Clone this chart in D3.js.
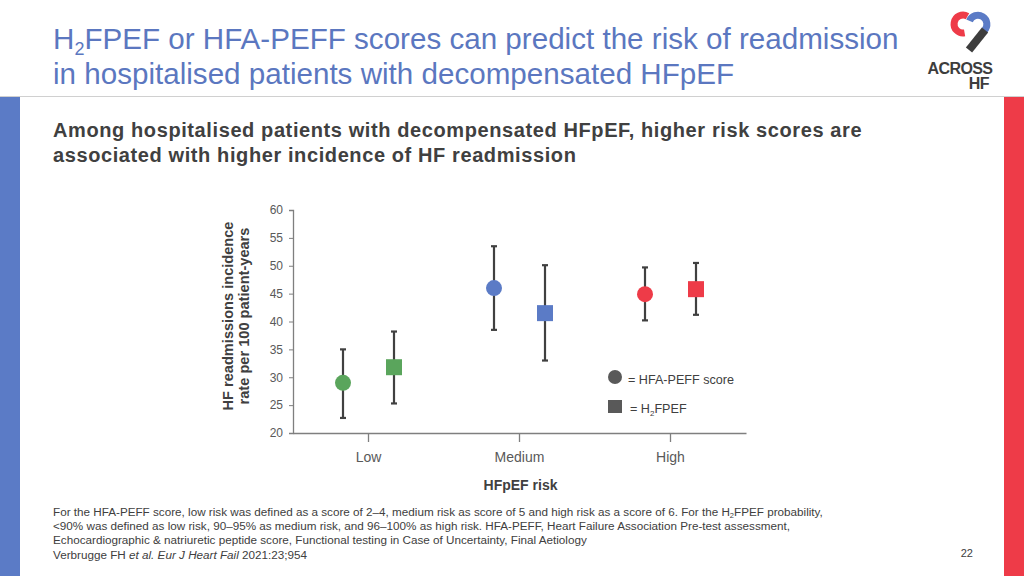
<!DOCTYPE html>
<html><head><meta charset="utf-8">
<script src="https://cdn.jsdelivr.net/npm/d3@7"></script>
<style>body{margin:0;background:#fff}svg{display:block;font-family:"Liberation Sans",Arial,sans-serif}</style>
</head><body><svg id="c" width="1024" height="576"></svg>
<script>
const categories = ["Low", "Medium", "High"];
const seriesNames = ["HFA-PEFF score", "H2FPEF"];
const hfaValues = [29, 46, 44.9];
const hfaLow = [22.7, 38.5, 40.2];
const hfaHigh = [35, 53.5, 49.7];
const h2Values = [31.8, 41.5, 45.8];
const h2Low = [25.3, 33, 41.2];
const h2High = [38.2, 50.1, 50.5];
const catColors = ["#5aa55c", "#5b7bc6", "#ee3b48"];
const yTicks = [20, 25, 30, 35, 40, 45, 50, 55, 60];

const svg = d3.select("#c");
// side bars and header line
svg.append("rect").attr("x",0).attr("y",96).attr("width",20).attr("height",480).attr("fill","#5b7bc6");
svg.append("rect").attr("x",1004).attr("y",96).attr("width",20).attr("height",480).attr("fill","#ee3b48");
svg.append("line").attr("x1",0).attr("x2",1024).attr("y1",96.5).attr("y2",96.5).attr("stroke","#d0d0d0").attr("stroke-width",1);

// title
const title = svg.append("text").attr("x",53).attr("y",49).attr("fill","#5b77c0").attr("font-size",29.6);
title.append("tspan").text("H");
title.append("tspan").text("2").attr("font-size",18).attr("dy",6);
title.append("tspan").text("FPEF or HFA-PEFF scores can predict the risk of readmission").attr("dy",-6);
svg.append("text").attr("x",53).attr("y",84).attr("fill","#5b77c0").attr("font-size",29.6)
  .text("in hospitalised patients with decompensated HFpEF");

// subtitle
svg.append("text").attr("x",53).attr("y",137).attr("fill","#404040").attr("font-size",20).attr("font-weight","bold").attr("letter-spacing",0.6)
  .text("Among hospitalised patients with decompensated HFpEF, higher risk scores are");
svg.append("text").attr("x",53).attr("y",162).attr("fill","#404040").attr("font-size",20).attr("font-weight","bold").attr("letter-spacing",0.6)
  .text("associated with higher incidence of HF readmission");

// logo
const logo = svg.append("g");
logo.append("path").attr("d","M967.5,16.2 A9,9 0 1 0 964.6,32.9").attr("fill","none").attr("stroke","#ee3b48").attr("stroke-width",7);
logo.append("path").attr("d","M969.5,20.9 A9,9 0 1 1 984.4,30.4").attr("fill","none").attr("stroke","#5b7bc6").attr("stroke-width",7);
logo.append("path").attr("d","M985,30 L969,50").attr("stroke","#3d3d3d").attr("stroke-width",8);
svg.append("text").attr("x",960).attr("y",74).attr("text-anchor","middle").attr("font-size",16).attr("font-weight","bold").attr("fill","#3d3d3d").attr("letter-spacing",-0.6).text("ACROSS");
svg.append("text").attr("x",989).attr("y",89).attr("text-anchor","end").attr("font-size",16).attr("font-weight","bold").attr("fill","#3d3d3d").attr("letter-spacing",-0.5).text("HF");

// chart
const x0 = 293, x1 = 746, yTop = 210, yBot = 433;
const x = d3.scaleBand().domain(categories).range([x0, x1]);
const y = d3.scaleLinear().domain([20, 60]).range([yBot, yTop]);

const yAx = svg.append("g").attr("transform",`translate(${x0},0)`)
  .call(d3.axisLeft(y).tickValues(yTicks).tickSize(4).tickPadding(6));
yAx.select(".domain").attr("stroke","#7f7f7f").attr("stroke-width",1.3);
yAx.selectAll(".tick line").attr("stroke","#7f7f7f");
yAx.selectAll("text").attr("font-size",12).attr("fill","#595959").attr("font-family","Liberation Sans, Arial, sans-serif");

const xAx = svg.append("g").attr("transform",`translate(0,${yBot})`)
  .call(d3.axisBottom(x).tickSizeOuter(0).tickSizeInner(9).tickPadding(10));
xAx.select(".domain").attr("stroke","#7f7f7f").attr("stroke-width",1.3);
xAx.selectAll(".tick line").attr("stroke","#7f7f7f").attr("stroke-width",1.3);
xAx.selectAll("text").attr("font-size",14).attr("fill","#595959").attr("font-family","Liberation Sans, Arial, sans-serif");

svg.append("text").attr("x",x0 + (x1-x0)/2 + 1).attr("y",490).attr("text-anchor","middle")
  .attr("font-size",14).attr("font-weight","bold").attr("fill","#404040").text("HFpEF risk");

const yl = svg.append("text").attr("transform","translate(233,316) rotate(-90)").attr("text-anchor","middle")
  .attr("font-size",14.6).attr("font-weight","bold").attr("fill","#404040");
yl.append("tspan").attr("x",0).attr("dy",0).text("HF readmissions incidence");
yl.append("tspan").attr("x",0).attr("dy",16).text("rate per 100 patient-years");

// data points
const off = 25.5;
const rows = categories.map((c,i) => ({c, i,
  hfa:{v:hfaValues[i], lo:hfaLow[i], hi:hfaHigh[i]},
  h2:{v:h2Values[i], lo:h2Low[i], hi:h2High[i]}}));
const cx = c => x(c) + x.bandwidth()/2;

function errBar(g, px, d){
  g.append("line").attr("x1",px).attr("x2",px).attr("y1",y(d.lo)).attr("y2",y(d.hi)).attr("stroke","#404040").attr("stroke-width",2.2);
  [d.lo,d.hi].forEach(v => g.append("line").attr("x1",px-3).attr("x2",px+3).attr("y1",y(v)).attr("y2",y(v)).attr("stroke","#404040").attr("stroke-width",2.2));
}
const pts = svg.append("g");
rows.forEach(r => {
  const pc = cx(r.c) - off, ps = cx(r.c) + off;
  errBar(pts, pc, r.hfa);
  errBar(pts, ps, r.h2);
  pts.append("circle").attr("cx",pc).attr("cy",y(r.hfa.v)).attr("r",8).attr("fill",catColors[r.i]);
  pts.append("rect").attr("x",ps-8).attr("y",y(r.h2.v)-8).attr("width",16).attr("height",16).attr("fill",catColors[r.i]);
});

// legend
svg.append("circle").attr("cx",615).attr("cy",377).attr("r",7).attr("fill","#595959");
svg.append("text").attr("x",628).attr("y",384).attr("font-size",12.6).attr("fill","#404040").text("= " + seriesNames[0]);
svg.append("rect").attr("x",608).attr("y",400).attr("width",14).attr("height",13).attr("fill","#595959");
const l2 = svg.append("text").attr("x",630).attr("y",413).attr("font-size",12.6).attr("fill","#404040");
l2.append("tspan").text("= H");
l2.append("tspan").text("2").attr("font-size",8).attr("dy",3);
l2.append("tspan").text("FPEF").attr("dy",-3);

// footnote
const fn = svg.append("g").attr("font-size",11.7).attr("fill","#404040");
const f1 = fn.append("text").attr("x",53).attr("y",516);
f1.append("tspan").text("For the HFA-PEFF score, low risk was defined as a score of 2–4, medium risk as score of 5 and high risk as a score of 6. For the H");
f1.append("tspan").text("2").attr("font-size",7.5).attr("dy",2);
f1.append("tspan").text("FPEF probability,").attr("dy",-2);
fn.append("text").attr("x",53).attr("y",530).text("<90% was defined as low risk, 90–95% as medium risk, and 96–100% as high risk. HFA-PEFF, Heart Failure Association Pre-test assessment,");
fn.append("text").attr("x",53).attr("y",544).text("Echocardiographic & natriuretic peptide score, Functional testing in Case of Uncertainty, Final Aetiology");
const f4 = fn.append("text").attr("x",53).attr("y",559);
f4.append("tspan").text("Verbrugge FH ");
f4.append("tspan").attr("font-style","italic").text("et al. Eur J Heart Fail");
f4.append("tspan").text(" 2021:23;954");
svg.append("text").attr("x",973).attr("y",557).attr("text-anchor","end").attr("font-size",11).attr("fill","#404040").text("22");
</script></body></html>
